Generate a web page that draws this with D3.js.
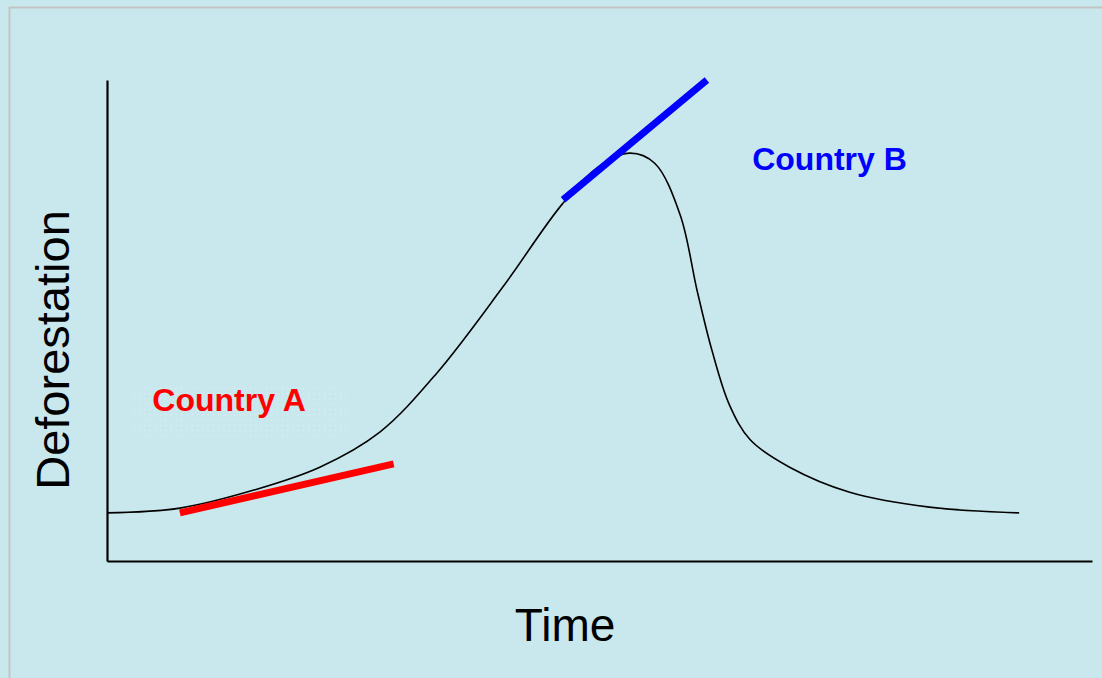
<!DOCTYPE html>
<html>
<head>
<meta charset="utf-8">
<script src="https://d3js.org/d3.v7.min.js"></script>
<style>
html,body{margin:0;padding:0;background:#c9e8ee;}
svg{display:block;}
</style>
</head>
<body>
<svg id="chart" width="1102" height="678"></svg>
<script>
// ---- Data (conceptual units: time 0..1000, deforestation 0..100) ----
const curveTime = [0, 74, 150, 216, 277, 335, 402, 463, 500, 531, 556, 582, 599, 614, 632, 653, 693, 754, 835, 926];
const curveDefor = [10.0, 11.0, 14.8, 19.5, 26.8, 39.1, 57.0, 74.4, 82.1, 84.8, 82.7, 71.9, 56.3, 43.9, 32.4, 25.2, 19.5, 14.3, 11.2, 10.0];

const countryNames = ["Country A", "Country B"];
const countryColors = ["#ff0000", "#0000ff"];
const tangentTime = [[74, 291], [463, 609]];
const tangentDefor = [[10.0, 20.2], [75.1, 100]];
const labelTime = [46, 655];
const labelDefor = [31.1, 81.2];

const xTitle = "Time";
const yTitle = "Deforestation";

// ---- Layout ----
const svg = d3.select("#chart");
const W = 1102, H = 678;
const plot = {left: 107, right: 1092, top: 80, bottom: 561};

const x = d3.scaleLinear().domain([0, 1000]).range([plot.left, plot.right]);
const y = d3.scaleLinear().domain([0, 100]).range([plot.bottom, plot.top]);

// background
svg.append("rect").attr("width", W).attr("height", H).attr("fill", "#c9e8ee");
// frame (left / top visible)
svg.append("rect")
  .attr("x", 9.5).attr("y", 7.5).attr("width", W + 20).attr("height", H + 20)
  .attr("fill", "none").attr("stroke", "#c3c3c3").attr("stroke-width", 2);

// faint dotted box behind Country A label
const defs = svg.append("defs");
const pat = defs.append("pattern").attr("id", "dots").attr("patternUnits", "userSpaceOnUse")
  .attr("width", 5.3).attr("height", 5.3);
pat.append("rect").attr("x", 1).attr("y", 1).attr("width", 1).attr("height", 1)
  .attr("fill", "#ffffff").attr("opacity", 0.45);
svg.append("rect")
  .attr("x", x(23)).attr("y", y(36.2)).attr("width", x(244) - x(23)).attr("height", y(25.2) - y(36.2))
  .attr("fill", "url(#dots)");

// axes
const xAxis = d3.axisBottom(x).tickValues([]).tickSizeOuter(0);
const yAxis = d3.axisLeft(y).tickValues([]).tickSizeOuter(0);
const gx = svg.append("g").attr("transform", `translate(0,${plot.bottom})`).call(xAxis);
const gy = svg.append("g").attr("transform", `translate(${plot.left},0)`).call(yAxis);
[gx, gy].forEach(g => g.select(".domain").attr("stroke", "#000").attr("stroke-width", 2.2));

// curve
const pts = curveTime.map((t, i) => [t, curveDefor[i]]);
const line = d3.line().x(d => x(d[0])).y(d => y(d[1])).curve(d3.curveCatmullRom.alpha(0.5));
svg.append("path").datum(pts).attr("d", line)
  .attr("fill", "none").attr("stroke", "#000").attr("stroke-width", 1.6);

// tangent lines
countryNames.forEach((name, i) => {
  svg.append("line")
    .attr("x1", x(tangentTime[i][0])).attr("y1", y(tangentDefor[i][0]))
    .attr("x2", x(tangentTime[i][1])).attr("y2", y(tangentDefor[i][1]))
    .attr("stroke", countryColors[i]).attr("stroke-width", 7);
  svg.append("text")
    .attr("x", x(labelTime[i])).attr("y", y(labelDefor[i]))
    .attr("fill", countryColors[i])
    .attr("font-family", "Liberation Sans, Arial, sans-serif")
    .attr("font-weight", "bold").attr("font-size", 32)
    .text(name);
});

// axis titles
svg.append("text")
  .attr("x", x(465)).attr("y", 641)
  .attr("text-anchor", "middle")
  .attr("font-family", "Liberation Sans, Arial, sans-serif").attr("font-size", 46)
  .attr("fill", "#000").text(xTitle);
svg.append("text")
  .attr("transform", `translate(69,350) rotate(-90)`)
  .attr("text-anchor", "middle")
  .attr("font-family", "Liberation Sans, Arial, sans-serif").attr("font-size", 47)
  .attr("fill", "#000").text(yTitle);
</script>
</body>
</html>
